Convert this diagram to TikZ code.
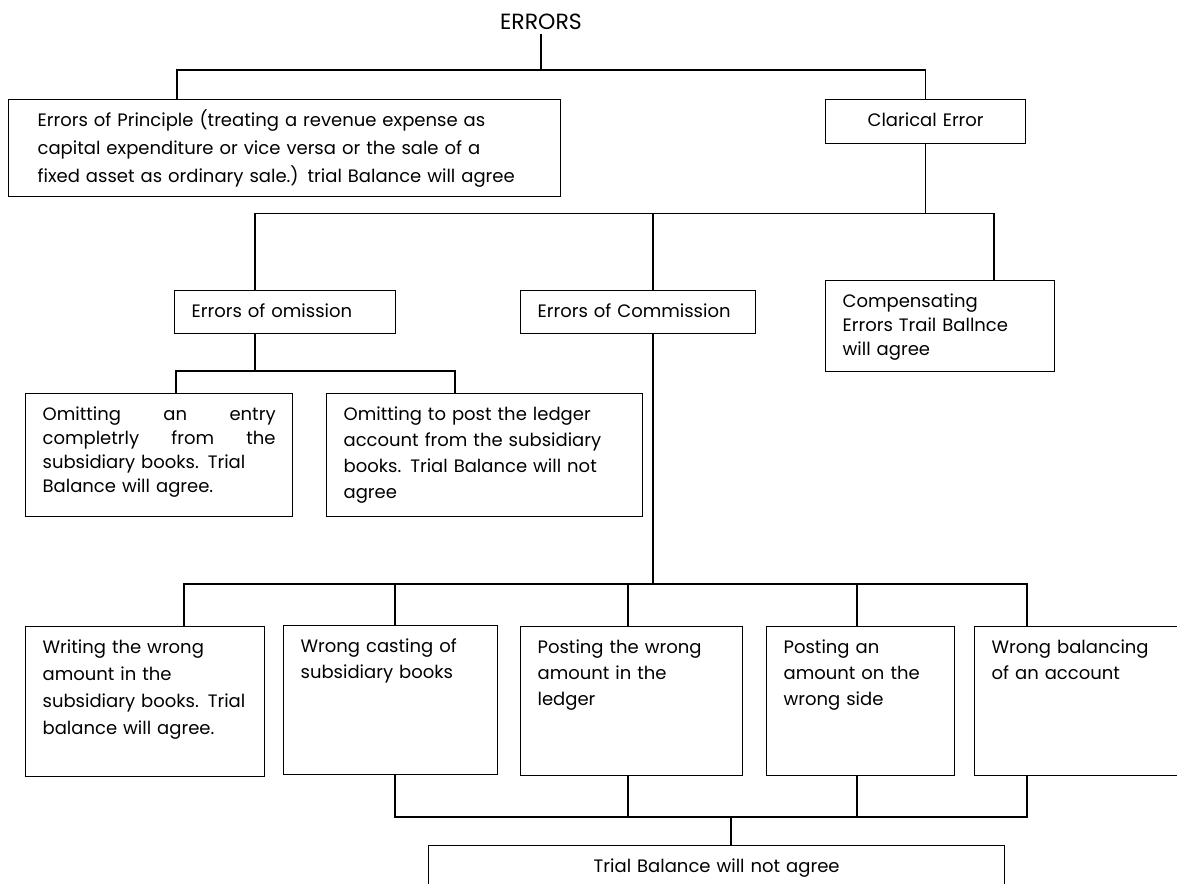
\documentclass[tikz,border=0pt]{standalone}
\usepackage{fontspec}
\setmainfont{Poppins}
\usepackage{tikz}

\tikzset{
  box/.style={draw, line width=1.3pt, anchor=north west, align=left,
    inner xsep=17pt, inner ysep=13pt, text height=14pt,
    font=\fontsize{18}{26}\selectfont},
  link/.style={line width=1.3pt},
}

\begin{document}
\begin{tikzpicture}[x=1pt, y=-1pt]
  \useasboundingbox (0,0) rectangle (1177,883);
  \node (title) [font=\fontsize{22}{24}\selectfont, inner sep=4pt] at (541,22) {ERRORS};

  % first split
  \node[box, inner xsep=29pt, text width=494pt, text depth=57pt,
        font=\fontsize{18}{28}\selectfont] (principle) at (8,99)
    {Errors of Principle (treating a revenue expense as\\
     capital expenditure or vice versa or the sale of a\\
     fixed asset as ordinary sale.) trial Balance will agree};
  \node[box, align=center, text width=166pt, text depth=4pt] (clerical) at (825,99) {Clarical Error};

  % clerical errors
  \node[box, text width=187pt, text depth=3pt] (omission) at (174,290) {Errors of omission};
  \node[box, text width=201pt, text depth=3pt] (commission) at (520,290) {Errors of Commission};
  \node[box, text width=195pt, text depth=51pt, font=\fontsize{18}{24}\selectfont] (compensating) at (825,280)
    {Compensating\\ Errors Trail Ballnce\\ will agree};

  % omission
  \node[box, text width=233pt, text depth=83pt, font=\fontsize{18}{24}\selectfont] (entry) at (25,393)
    {Omitting \hfill an \hfill entry\\ completrly \hfill from \hfill the\\ subsidiary books. Trial\\ Balance will agree.};
  \node[box, text width=282pt, text depth=83pt] (post) at (326,393)
    {Omitting to post the ledger\\ account from the subsidiary\\ books. Trial Balance will not\\ agree};

  % commission
  \node[box, text width=205pt, text depth=110pt, font=\fontsize{18}{27}\selectfont] (wr1) at (25,626)
    {Writing the wrong\\ amount in the\\ subsidiary books. Trial\\ balance will agree.};
  \node[box, text width=180pt, text depth=109pt] (wr2) at (283,625) {Wrong casting of\\ subsidiary books};
  \node[box, text width=188pt, text depth=109pt] (wr3) at (520,626) {Posting the wrong\\ amount in the\\ ledger};
  \node[box, text width=154pt, text depth=109pt] (wr4) at (766,626) {Posting an\\ amount on the\\ wrong side};
  \node[box, text width=206pt, text depth=109pt] (wr5) at (974,626) {Wrong balancing\\ of an account};

  \node[box, align=center, text width=542pt, text depth=30pt] (trial) at (428,845) {Trial Balance will not agree};

  % connectors
  \coordinate (j1) at (541,70);
  \draw[link] (title) -- (j1);
  \draw[link] ([xshift=169pt]principle.north west) |- (j1) -| (clerical.north);

  \coordinate (j2) at ([yshift=-69pt]clerical.south);
  \draw[link] (clerical.south) -- (j2);
  \draw[link] ([xshift=81pt]omission.north west) |- (j2) -| ([xshift=169pt]compensating.north west);
  \draw[link] ([xshift=133pt]commission.north west) |- (j2);

  \coordinate (j3) at (255,371);
  \draw[link] ([xshift=81pt]omission.south west) -- (j3);
  \draw[link] ([xshift=151pt]entry.north west) |- (j3) -| ([xshift=129pt]post.north west);

  \coordinate (j4) at (653,584);
  \draw[link] ([xshift=133pt]commission.south west) -- (j4);
  \draw[link] ([xshift=159pt]wr1.north west) |- (j4) -| ([xshift=53pt]wr5.north west);
  \draw[link] ([xshift=112pt]wr2.north west) |- (j4);
  \draw[link] ([xshift=108pt]wr3.north west) |- (j4);
  \draw[link] ([xshift=91pt]wr4.north west) |- (j4);

  \coordinate (j5) at (731,817);
  \draw[link] ([xshift=112pt]wr2.south west) |- (j5) -| ([xshift=53pt]wr5.south west);
  \draw[link] ([xshift=108pt]wr3.south west) |- (j5);
  \draw[link] ([xshift=91pt]wr4.south west) |- (j5);
  \draw[link] (j5) -- ([xshift=303pt]trial.north west);
\end{tikzpicture}
\end{document}
